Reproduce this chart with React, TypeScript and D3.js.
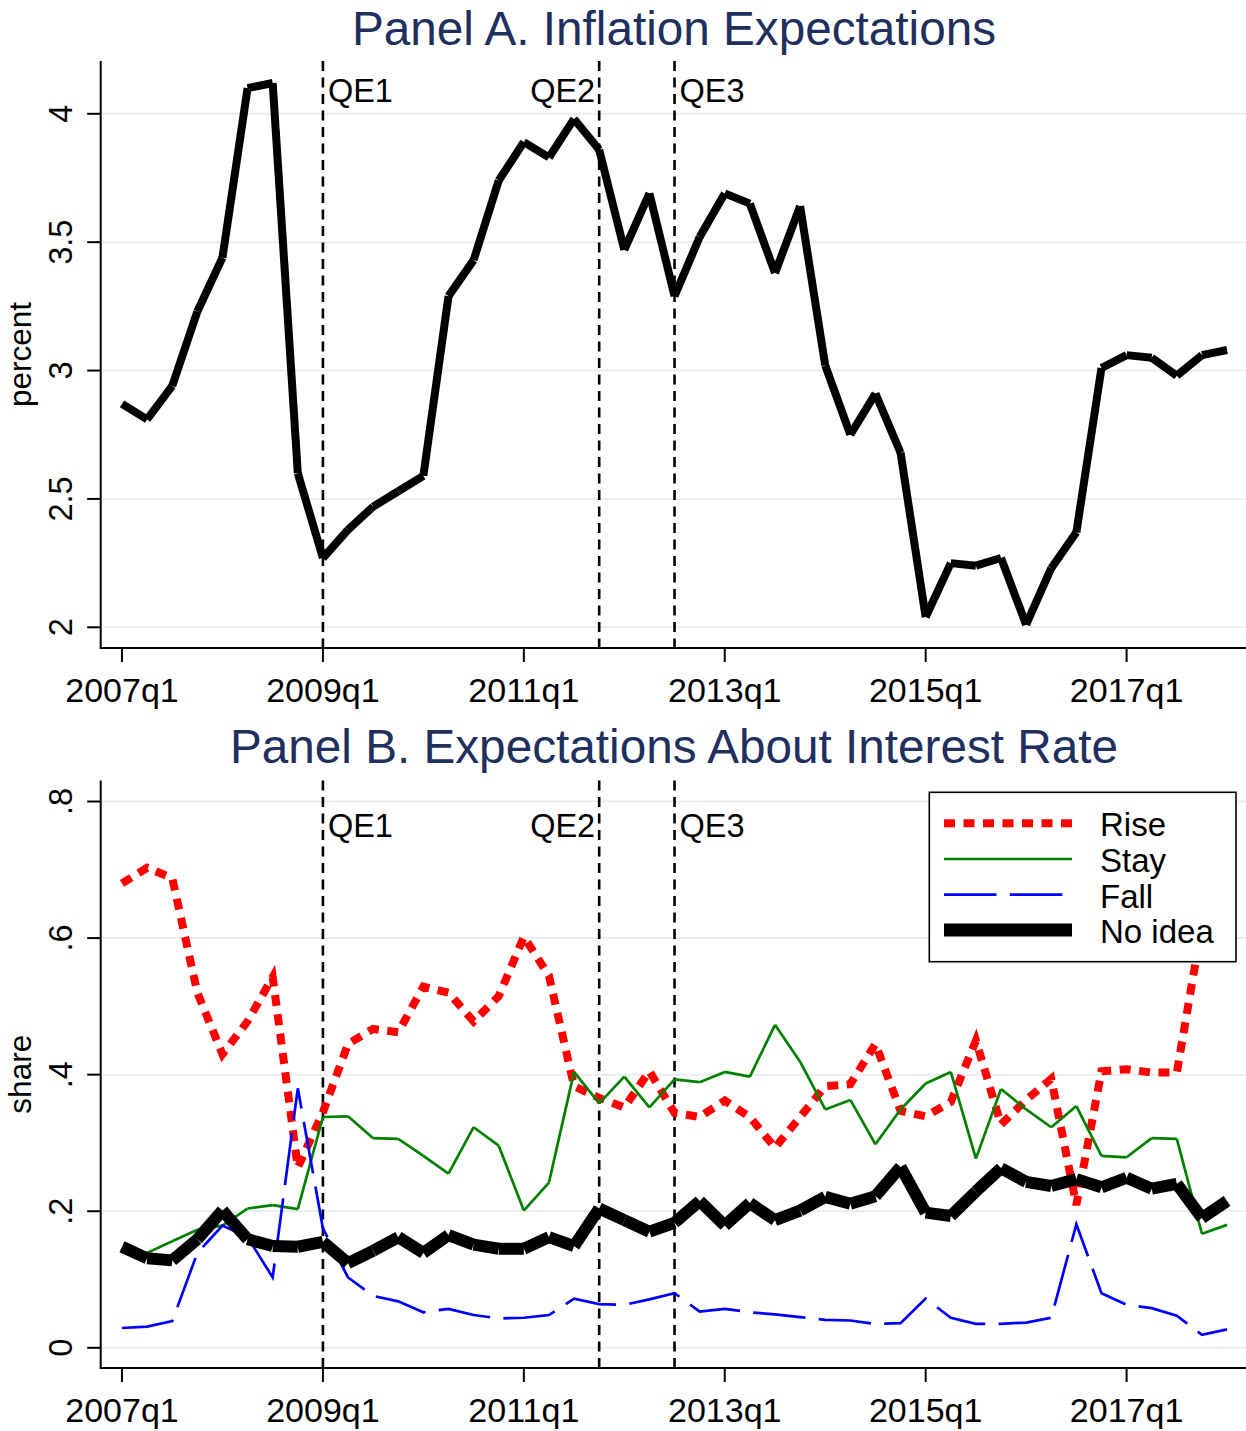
import React from 'react';
import * as d3 from 'd3';

const quarters = [
  '2007q1','2007q2','2007q3','2007q4','2008q1','2008q2','2008q3','2008q4',
  '2009q1','2009q2','2009q3','2009q4','2010q1','2010q2','2010q3','2010q4',
  '2011q1','2011q2','2011q3','2011q4','2012q1','2012q2','2012q3','2012q4',
  '2013q1','2013q2','2013q3','2013q4','2014q1','2014q2','2014q3','2014q4',
  '2015q1','2015q2','2015q3','2015q4','2016q1','2016q2','2016q3','2016q4',
  '2017q1','2017q2','2017q3','2017q4','2018q1'
];

const inflation = [
  2.87, 2.81, 2.94, 3.23, 3.44, 4.10, 4.12, 2.60,
  2.27, 2.38, 2.47, 2.53, 2.59, 3.29, 3.43, 3.74,
  3.89, 3.83, 3.98, 3.86, 3.47, 3.69, 3.29, 3.52,
  3.69, 3.65, 3.38, 3.64, 3.02, 2.75, 2.91, 2.68,
  2.04, 2.25, 2.24, 2.27, 2.01, 2.23, 2.37, 3.01,
  3.06, 3.05, 2.98, 3.06, 3.08
];

const rise = [
  0.680, 0.703, 0.688, 0.520, 0.430, 0.478, 0.543, 0.264,
  0.345, 0.445, 0.467, 0.462, 0.529, 0.520, 0.478, 0.515,
  0.602, 0.545, 0.383, 0.366, 0.352, 0.405, 0.344, 0.338,
  0.362, 0.338, 0.293, 0.338, 0.383, 0.386, 0.445, 0.347,
  0.339, 0.360, 0.450, 0.327, 0.363, 0.394, 0.209, 0.405,
  0.408, 0.403, 0.403, 0.620, 0.650
];

const stay = [
  0.140, 0.139, 0.156, 0.173, 0.179, 0.204, 0.209, 0.203,
  0.338, 0.339, 0.307, 0.306, 0.281, 0.255, 0.323, 0.296,
  0.201, 0.242, 0.404, 0.358, 0.397, 0.352, 0.393, 0.389,
  0.404, 0.397, 0.473, 0.419, 0.349, 0.363, 0.298, 0.349,
  0.387, 0.404, 0.277, 0.379, 0.349, 0.323, 0.354, 0.281,
  0.279, 0.307, 0.306, 0.167, 0.180
];

const fall = [
  0.029, 0.031, 0.039, 0.139, 0.179, 0.162, 0.103, 0.380,
  0.175, 0.103, 0.076, 0.068, 0.052, 0.057, 0.048, 0.043,
  0.044, 0.048, 0.072, 0.064, 0.063, 0.071, 0.080, 0.053,
  0.057, 0.052, 0.049, 0.045, 0.041, 0.040, 0.035, 0.036,
  0.072, 0.044, 0.035, 0.035, 0.037, 0.044, 0.181, 0.080,
  0.063, 0.058, 0.047, 0.019, 0.027
];

const noIdea = [
  0.148, 0.131, 0.128, 0.159, 0.201, 0.159, 0.149, 0.148,
  0.155, 0.124, 0.142, 0.162, 0.139, 0.165, 0.151, 0.145,
  0.145, 0.162, 0.149, 0.204, 0.187, 0.170, 0.183, 0.215,
  0.179, 0.212, 0.187, 0.201, 0.221, 0.211, 0.222, 0.265,
  0.198, 0.193, 0.229, 0.263, 0.243, 0.237, 0.247, 0.235,
  0.249, 0.233, 0.240, 0.190, 0.215
];

const xTickLabels = ['2007q1', '2009q1', '2011q1', '2013q1', '2015q1', '2017q1'];
const qeQuarters = ['2009q1', '2011q4', '2012q3'];
const qeLabels = ['QE1', 'QE2', 'QE3'];
const panelATicks = [2, 2.5, 3, 3.5, 4];
const panelATickLabels = ['2', '2.5', '3', '3.5', '4'];
const panelBTicks = [0, 0.2, 0.4, 0.6, 0.8];
const panelBTickLabels = ['0', '.2', '.4', '.6', '.8'];
const legendLabels = ['Rise', 'Stay', 'Fall', 'No idea'];

const FONT = '"Liberation Sans", Arial, Helvetica, sans-serif';
const NAVY = '#1f2f5e';
const GRID = '#e6eef0';

const W = 1246;
const H = 1431;
const LEFT = 100.7;
const RIGHT = 1246;

const x = d3.scalePoint<string>().domain(quarters).range([122, 122 + 44 * 25.115]);

type PanelCfg = {
  top: number;
  bottom: number;
  y: d3.ScaleLinear<number, number>;
  ticks: number[];
  tickLabels: string[];
  title: string;
  titleY: number;
  yTitle: string;
  qeY: number;
};

const panelA: PanelCfg = {
  top: 61,
  bottom: 648,
  y: d3.scaleLinear().domain([2, 4]).range([627.3, 113.8]),
  ticks: panelATicks,
  tickLabels: panelATickLabels,
  title: 'Panel A. Inflation Expectations',
  titleY: 45,
  yTitle: 'percent',
  qeY: 102,
};

const panelB: PanelCfg = {
  top: 780.5,
  bottom: 1368,
  y: d3.scaleLinear().domain([0, 0.8]).range([1347.8, 801.5]),
  ticks: panelBTicks,
  tickLabels: panelBTickLabels,
  title: 'Panel B. Expectations About Interest Rate',
  titleY: 763,
  yTitle: 'share',
  qeY: 837,
};

function Segments({ values, y, color, width }: { values: number[]; y: d3.ScaleLinear<number, number>; color: string; width: number }) {
  const segs = d3.pairs(values.map((v, i) => [x(quarters[i]) as number, y(v)] as [number, number]));
  return (
    <g>
      {segs.map(([a, b], i) => (
        <line key={i} x1={a[0]} y1={a[1]} x2={b[0]} y2={b[1]} stroke={color} strokeWidth={width} strokeLinecap="butt" />
      ))}
    </g>
  );
}

function DashedLine({ values, y, color, width, dash }: { values: number[]; y: d3.ScaleLinear<number, number>; color: string; width: number; dash: string }) {
  const gen = d3.line<number>().x((_, i) => x(quarters[i]) as number).y((v) => y(v));
  return <path d={gen(values) || ''} fill="none" stroke={color} strokeWidth={width} strokeDasharray={dash} strokeLinejoin="miter" strokeLinecap="butt" />;
}

function PanelFrame({ cfg }: { cfg: PanelCfg }) {
  const midY = (cfg.top + cfg.bottom) / 2;
  return (
    <g fontFamily={FONT}>
      <text x={674} y={cfg.titleY} textAnchor="middle" fontSize={47.7} fill={NAVY}>{cfg.title}</text>
      {cfg.ticks.map((t) => (
        <line key={'g' + t} x1={LEFT} x2={RIGHT} y1={cfg.y(t)} y2={cfg.y(t)} stroke={GRID} strokeWidth={2} />
      ))}
      {qeQuarters.map((q, i) => {
        const qx = x(q) as number;
        return (
          <g key={q}>
            <line x1={qx} x2={qx} y1={cfg.top} y2={cfg.bottom} stroke="#000" strokeWidth={2.6} strokeDasharray="10,6.5" />
            <text x={i === 1 ? qx - 4 : qx + 5} y={cfg.qeY} textAnchor={i === 1 ? 'end' : 'start'} fontSize={32.5} fill="#000">{qeLabels[i]}</text>
          </g>
        );
      })}
    </g>
  );
}

function PanelAxes({ cfg }: { cfg: PanelCfg }) {
  const midY = (cfg.top + cfg.bottom) / 2;
  return (
    <g fontFamily={FONT}>
      <line x1={LEFT} x2={LEFT} y1={cfg.top} y2={cfg.bottom} stroke="#000" strokeWidth={2} />
      <line x1={LEFT - 1} x2={RIGHT} y1={cfg.bottom} y2={cfg.bottom} stroke="#000" strokeWidth={2} />
      {cfg.ticks.map((t, i) => (
        <g key={'t' + t}>
          <line x1={LEFT - 13.5} x2={LEFT} y1={cfg.y(t)} y2={cfg.y(t)} stroke="#000" strokeWidth={2} />
          <text transform={`translate(72,${cfg.y(t)}) rotate(-90)`} textAnchor="middle" fontSize={32.5} fill="#000">{cfg.tickLabels[i]}</text>
        </g>
      ))}
      {xTickLabels.map((lab) => {
        const tx = x(lab) as number;
        return (
          <g key={lab}>
            <line x1={tx} x2={tx} y1={cfg.bottom} y2={cfg.bottom + 14} stroke="#000" strokeWidth={2} />
            <text x={tx} y={cfg.bottom + 53.5} textAnchor="middle" fontSize={34} fill="#000">{lab}</text>
          </g>
        );
      })}
      <text transform={`translate(31,${midY}) rotate(-90)`} textAnchor="middle" fontSize={31.5} fill="#000">{cfg.yTitle}</text>
    </g>
  );
}

function Legend() {
  const bx = 929.3, by = 792.3, bw = 306.7, bh = 169.4;
  const ys = [823.3, 859, 894.7, 930];
  const styles = [
    { color: '#ff0000', width: 8, dash: '11,8.5' },
    { color: '#008000', width: 2.7, dash: '' },
    { color: '#0000ff', width: 2.7, dash: '52.5,13.3' },
    { color: '#000000', width: 13, dash: '' },
  ];
  return (
    <g fontFamily={FONT}>
      <rect x={bx} y={by} width={bw} height={bh} fill="#fff" stroke="#000" strokeWidth={1.6} />
      {legendLabels.map((lab, i) => (
        <g key={lab}>
          <line x1={944} x2={1072} y1={ys[i]} y2={ys[i]} stroke={styles[i].color} strokeWidth={styles[i].width} strokeDasharray={styles[i].dash || undefined} />
          <text x={1100} y={ys[i] + 13} fontSize={33} fill="#000">{lab}</text>
        </g>
      ))}
    </g>
  );
}

export default function App() {
  return (
    <svg width={W} height={H} viewBox={`0 0 ${W} ${H}`} style={{ position: 'absolute', left: 0, top: 0, display: 'block', background: '#fff' }}>
      <rect x={0} y={0} width={W} height={H} fill="#fff" />
      <PanelFrame cfg={panelA} />
      <Segments values={inflation} y={panelA.y} color="#000" width={8} />
      <PanelAxes cfg={panelA} />

      <PanelFrame cfg={panelB} />
      <DashedLine values={rise} y={panelB.y} color="#ff0000" width={8} dash="11,8.5" />
      <Segments values={stay} y={panelB.y} color="#008000" width={2.7} />
      <DashedLine values={fall} y={panelB.y} color="#0000ff" width={2.7} dash="52.5,13.3" />
      <Segments values={noIdea} y={panelB.y} color="#000" width={12} />
      <PanelAxes cfg={panelB} />
      <Legend />
    </svg>
  );
}
